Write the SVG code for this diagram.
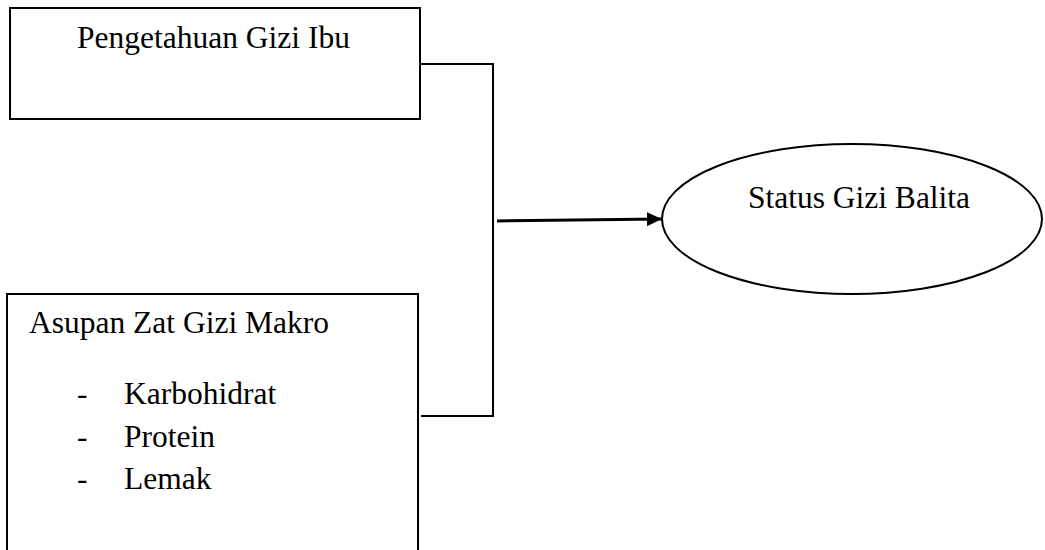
<svg xmlns="http://www.w3.org/2000/svg" width="1045" height="550" viewBox="0 0 1045 550">
<style>
.box{fill:#fff;stroke:#000;stroke-width:2}
.t{font-family:"Liberation Serif","Times New Roman","DejaVu Serif",serif;font-size:31.5px;fill:#000}
.c{fill:none;stroke:#000;stroke-width:2}
</style>
<defs>
<marker id="ah" markerWidth="15" markerHeight="14" refX="15" refY="7" orient="auto" markerUnits="userSpaceOnUse" viewBox="0 0 15 14">
<path d="M0,0 L15,7 L0,14 z" fill="#000"/>
</marker>
</defs>
<g id="node-pengetahuan">
<rect class="box" x="10" y="8" width="410" height="111"/>
<text class="t" x="77" y="48">Pengetahuan Gizi Ibu</text>
</g>
<g id="node-asupan">
<rect class="box" x="7" y="294" width="411" height="270"/>
<text class="t" x="29" y="333">Asupan Zat Gizi Makro</text>
<text class="t" x="77" y="404">-</text>
<text class="t" x="124" y="404">Karbohidrat</text>
<text class="t" x="77" y="447">-</text>
<text class="t" x="124" y="447">Protein</text>
<text class="t" x="77" y="489">-</text>
<text class="t" x="124" y="489">Lemak</text>
</g>
<g id="node-status">
<ellipse cx="852" cy="219" rx="190" ry="75" fill="#fff" stroke="#000" stroke-width="2"/>
<text class="t" x="859" y="208" text-anchor="middle">Status Gizi Balita</text>
</g>
<g id="connectors">
<polyline class="c" points="420,64 493,64 493,416 421,416"/>
<line x1="497" y1="221" x2="662" y2="219" stroke="#000" stroke-width="3" marker-end="url(#ah)"/>
</g>
</svg>
